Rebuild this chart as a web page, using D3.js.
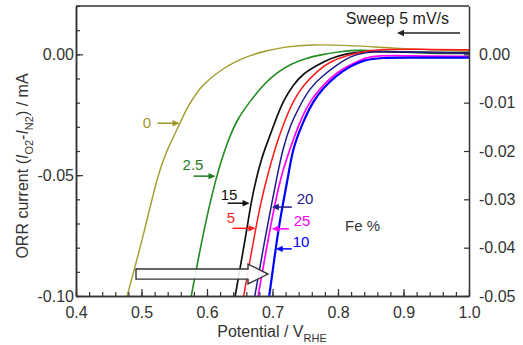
<!DOCTYPE html>
<html>
<head>
<meta charset="utf-8">
<script src="https://cdn.jsdelivr.net/npm/d3@7"></script>
<style>
  html, body { margin: 0; padding: 0; background: #fff; }
  svg { display: block; font-family: "Liberation Sans", Arial, sans-serif; }
</style>
</head>
<body>
<svg id="chart" width="523" height="345"></svg>
<script>
// ---- Data: ORR current (mA) vs potential (V vs RHE) for each Fe loading ----
const fe0V   = [0.478, 0.504, 0.524, 0.540, 0.559, 0.569, 0.579, 0.589, 0.605, 0.623, 0.644, 0.666, 0.689, 0.719, 0.757, 0.818, 0.870, 0.930, 1.000];
const fe0I   = [-0.100, -0.074, -0.0504, -0.0388, -0.0285, -0.0223, -0.0182, -0.0140, -0.0099, -0.0062, -0.0029, -0.0004, 0.0014, 0.0031, 0.0041, 0.0037, 0.0028, 0.0019, 0.0014];

const fe25V  = [0.576, 0.594, 0.614, 0.632, 0.647, 0.666, 0.685, 0.707, 0.730, 0.750, 0.773, 0.803, 0.834, 0.880, 0.940, 1.000];
const fe25I  = [-0.100, -0.074, -0.0504, -0.0355, -0.0264, -0.0194, -0.0128, -0.0074, -0.0037, -0.0017, -0.0002, 0.0012, 0.0019, 0.0010, 0.0004, 0.0003];

const fe15V  = [0.643, 0.660, 0.667, 0.676, 0.684, 0.689, 0.704, 0.716, 0.731, 0.747, 0.768, 0.788, 0.814, 0.838, 0.880, 0.940, 1.000];
const fe15I  = [-0.100, -0.074, -0.0616, -0.0504, -0.0426, -0.0388, -0.0277, -0.0194, -0.0128, -0.0079, -0.0045, -0.0017, 0.0004, 0.0012, 0.0010, 0.0008, 0.0007];

const fe5V   = [0.656, 0.673, 0.682, 0.692, 0.704, 0.716, 0.731, 0.747, 0.768, 0.788, 0.814, 0.838, 0.872, 0.930, 1.000];
const fe5I   = [-0.100, -0.074, -0.0616, -0.0504, -0.0388, -0.0293, -0.0194, -0.0128, -0.0070, -0.0029, -0.0004, 0.0012, 0.0021, 0.0021, 0.0019];

const fe20V  = [0.673, 0.690, 0.699, 0.707, 0.716, 0.727, 0.742, 0.757, 0.777, 0.798, 0.818, 0.841, 0.870, 0.920, 1.000];
const fe20I  = [-0.100, -0.074, -0.0616, -0.0504, -0.0388, -0.0293, -0.0211, -0.0140, -0.0087, -0.0045, -0.0008, 0.0008, 0.0013, 0.0008, 0.0005];

const fe25pV = [0.678, 0.695, 0.704, 0.713, 0.727, 0.742, 0.757, 0.773, 0.788, 0.808, 0.829, 0.849, 0.879, 0.940, 1.000];
const fe25pI = [-0.100, -0.074, -0.0616, -0.0504, -0.0388, -0.0277, -0.0194, -0.0140, -0.0099, -0.0058, -0.0029, -0.0008, -0.0004, -0.0008, -0.0008];

const fe10V  = [0.695, 0.708, 0.716, 0.724, 0.731, 0.747, 0.762, 0.777, 0.798, 0.818, 0.838, 0.864, 0.920, 1.000];
const fe10I  = [-0.100, -0.074, -0.0616, -0.0504, -0.0388, -0.0277, -0.0194, -0.0140, -0.0087, -0.0050, -0.0025, -0.0013, -0.0014, -0.0014];

// Tick values
const potentialTicks = [0.4, 0.5, 0.6, 0.7, 0.8, 0.9, 1.0];
const leftTicks  = [-0.10, -0.05, 0.00];
const rightTicks = [-0.05, -0.04, -0.03, -0.02, -0.01, 0.00];

// ---- Layout ----
const svg = d3.select("#chart");
const M = { left: 76, right: 469, top: 6, bottom: 296 };
const x  = d3.scaleLinear().domain([0.4, 1.0]).range([M.left, M.right]);
const yL = d3.scaleLinear().domain([-0.10, 0.02]).range([M.bottom, M.top]);
const yR = d3.scaleLinear().domain([-0.05, 0.01]).range([M.bottom, M.top]);

const axisColor = "#333";
const textColor = "#333";

const series = [
  { V: fe0V,   I: fe0I,   color: "#a29d2c", w: 1.4 },
  { V: fe25V,  I: fe25I,  color: "#1f8c1f", w: 1.6 },
  { V: fe15V,  I: fe15I,  color: "#111111", w: 1.7 },
  { V: fe20V,  I: fe20I,  color: "#1c1c8a", w: 1.5 },
  { V: fe25pV, I: fe25pI, color: "#ff00ff", w: 1.7 },
  { V: fe10V,  I: fe10I,  color: "#0000ff", w: 2.2 },
  { V: fe5V,   I: fe5I,   color: "#ff1a1a", w: 1.5 }
];

const line = d3.line()
  .x(d => x(d[0]))
  .y(d => yL(d[1]))
  .curve(d3.curveBasis);

const plot = svg.append("g");
plot.append("clipPath").attr("id", "clip")
  .append("rect").attr("x", M.left).attr("y", M.top)
  .attr("width", M.right - M.left).attr("height", M.bottom - M.top);

const curves = plot.append("g").attr("clip-path", "url(#clip)");
series.forEach(s => {
  curves.append("path")
    .datum(s.V.map((v, i) => [v, s.I[i]]))
    .attr("d", line)
    .attr("fill", "none")
    .attr("stroke", s.color)
    .attr("stroke-width", s.w)
    .attr("stroke-linejoin", "round");
});

// ---- Axes ----
const fmt1 = d => d.toFixed(1);
const fmt2 = d => d.toFixed(2);

function styleAxis(g, size) {
  g.select(".domain").attr("stroke", axisColor).attr("stroke-width", 1.5);
  g.selectAll(".tick line").attr("stroke", axisColor).attr("stroke-width", 1.2);
  g.selectAll(".tick text").attr("fill", textColor).attr("font-size", size);
  g.attr("font-family", null);
}

// bottom: minor then major
const minorX = d3.range(0.4, 1.0001, 0.02).map(v => +v.toFixed(2));
svg.append("g").attr("transform", `translate(0,${M.bottom})`)
  .call(d3.axisBottom(x).tickValues(minorX).tickSize(-4).tickSizeOuter(0).tickFormat(""))
  .call(g => styleAxis(g, 16));
svg.append("g").attr("transform", `translate(0,${M.bottom})`)
  .call(d3.axisBottom(x).tickValues(potentialTicks).tickSize(-7).tickSizeOuter(0).tickPadding(11).tickFormat(fmt1))
  .call(g => styleAxis(g, 16));

// left: minor every 0.01, labelled every 0.05
const minorL = d3.range(-0.10, 0.0201, 0.01).map(v => +v.toFixed(2));
svg.append("g").attr("transform", `translate(${M.left},0)`)
  .call(d3.axisLeft(yL).tickValues(minorL).tickSize(-4).tickSizeOuter(0).tickFormat(""))
  .call(g => styleAxis(g, 16));
svg.append("g").attr("transform", `translate(${M.left},0)`)
  .call(d3.axisLeft(yL).tickValues(leftTicks).tickSize(-7).tickSizeOuter(0).tickPadding(2).tickFormat(fmt2))
  .call(g => styleAxis(g, 16));

// right axis
svg.append("g").attr("transform", `translate(${M.right},0)`)
  .call(d3.axisRight(yR).tickValues(rightTicks).tickSize(-5).tickSizeOuter(0).tickPadding(10).tickFormat(fmt2))
  .call(g => styleAxis(g, 16));

// top frame
svg.append("line")
  .attr("x1", M.left).attr("x2", M.right).attr("y1", M.top).attr("y2", M.top)
  .attr("stroke", axisColor).attr("stroke-width", 1.5);

// ---- Axis titles ----
const xt = svg.append("text")
  .attr("x", 272).attr("y", 337)
  .attr("text-anchor", "middle").attr("font-size", 16).attr("fill", textColor);
xt.append("tspan").text("Potential / V");
xt.append("tspan").attr("font-size", 11).attr("dy", 5).text("RHE");

const yt = svg.append("text")
  .attr("transform", "translate(28,166) rotate(-90)")
  .attr("text-anchor", "middle").attr("font-size", 16).attr("fill", textColor);
yt.append("tspan").text("ORR current (");
yt.append("tspan").attr("font-style", "italic").text("I");
yt.append("tspan").attr("font-size", 11).attr("dy", 5).text("O2");
yt.append("tspan").attr("dy", -5).text("-");
yt.append("tspan").attr("font-style", "italic").text("I");
yt.append("tspan").attr("font-size", 11).attr("dy", 5).text("N2");
yt.append("tspan").attr("dy", -5).text(") / mA");

// ---- Curve labels with pointer arrows (tip given in data units) ----
const labels = [
  { text: "0",   color: "#9a962a", tip: [0.558, -0.0285], len: 22, dir: 1,  tx: 147, ty: 123 },
  { text: "2.5", color: "#1f7a1f", tip: [0.613, -0.0504], len: 22, dir: 1,  tx: 193, ty: 165 },
  { text: "15",  color: "#111111", tip: [0.665, -0.0616], len: 22, dir: 1,  tx: 229, ty: 195 },
  { text: "5",   color: "#ff1a1a", tip: [0.674, -0.0720], len: 23, dir: 1,  tx: 231, ty: 218 },
  { text: "20",  color: "#1c1c8a", tip: [0.699, -0.0632], len: 20, dir: -1, tx: 305, ty: 199 },
  { text: "25",  color: "#ff00ff", tip: [0.699, -0.0722], len: 17, dir: -1, tx: 302, ty: 221 },
  { text: "10",  color: "#0000ff", tip: [0.705, -0.0805], len: 16, dir: -1, tx: 301, ty: 242 }
];

function pointer(g, x1, y1, x2, color, width) {
  // horizontal arrow from x1 to x2 at height y1, head at x2
  const dir = Math.sign(x2 - x1);
  const hl = 7, hw = 3.2;
  g.append("line")
    .attr("x1", x1).attr("y1", y1).attr("x2", x2 - dir * hl * 0.8).attr("y2", y1)
    .attr("stroke", color).attr("stroke-width", width);
  g.append("path")
    .attr("d", `M${x2},${y1} L${x2 - dir * hl},${y1 - hw} L${x2 - dir * hl},${y1 + hw} Z`)
    .attr("fill", color);
}

const ann = svg.append("g");
labels.forEach(l => {
  const tx = x(l.tip[0]), ty = yL(l.tip[1]);
  pointer(ann, tx - l.dir * l.len, ty, tx, l.color, 1.5);
  ann.append("text")
    .attr("x", l.tx).attr("y", l.ty).attr("dy", "0.35em")
    .attr("text-anchor", "middle").attr("font-size", 15)
    .attr("fill", l.color).text(l.text);
});

ann.append("text")
  .attr("x", 345).attr("y", 226).attr("dy", "0.35em")
  .attr("font-size", 15).attr("fill", textColor).text("Fe %");

// sweep direction
ann.append("text")
  .attr("x", 449).attr("y", 24).attr("text-anchor", "end")
  .attr("font-size", 16).attr("fill", "#222").text("Sweep 5 mV/s");
pointer(ann, 460, 33, 397, "#222", 1.5);

// hollow arrow showing the shift with Fe content
const ha = [
  [0.4916, -0.0888], [0.6626, -0.0888], [0.6626, -0.0868], [0.6931, -0.0909],
  [0.6626, -0.0950], [0.6626, -0.0930], [0.4916, -0.0930]
];
ann.append("path")
  .attr("d", d3.line().x(d => x(d[0])).y(d => yL(d[1]))(ha) + "Z")
  .attr("fill", "#fff").attr("fill-opacity", 0.9)
  .attr("stroke", "#333").attr("stroke-width", 1.4)
  .attr("stroke-linejoin", "miter");
</script>
</body>
</html>
